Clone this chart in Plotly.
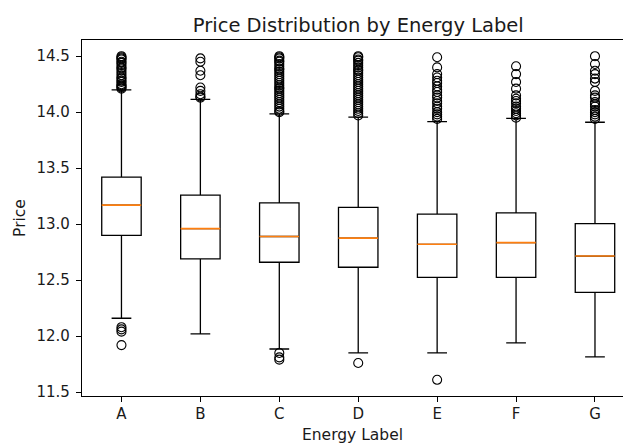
import plotly.graph_objects as go

labels = ["A", "B", "C", "D", "E", "F", "G"]
q1 = [12.90, 12.69, 12.66, 12.615, 12.525, 12.525, 12.39]
median = [13.17, 12.96, 12.89, 12.875, 12.82, 12.835, 12.715]
q3 = [13.42, 13.26, 13.19, 13.15, 13.09, 13.10, 13.005]
lower_whisker = [12.16, 12.02, 11.885, 11.85, 11.85, 11.94, 11.815]
upper_whisker = [14.20, 14.115, 13.985, 13.955, 13.915, 13.945, 13.91]

outliers = {
    "A": [14.50, 14.49, 14.48, 14.47, 14.45, 14.44, 14.42, 14.40, 14.39, 14.37, 14.35,
          14.33, 14.31, 14.30, 14.28, 14.27, 14.25, 14.24, 14.23, 14.22, 14.21,
          12.08, 12.06, 12.04, 11.92],
    "B": [14.48, 14.45, 14.37, 14.33, 14.22, 14.19, 14.16, 14.14, 14.13],
    "C": [14.50, 14.49, 14.48, 14.46, 14.45, 14.43, 14.41, 14.39, 14.38, 14.36, 14.34,
          14.32, 14.30, 14.28, 14.26, 14.24, 14.22, 14.21, 14.19, 14.17, 14.15, 14.13,
          14.11, 14.09, 14.07, 14.05, 14.03, 14.01, 14.00,
          11.85, 11.81, 11.79],
    "D": [14.50, 14.49, 14.47, 14.46, 14.44, 14.42, 14.40, 14.38, 14.37, 14.35, 14.33,
          14.31, 14.29, 14.27, 14.25, 14.23, 14.21, 14.19, 14.17, 14.15, 14.13, 14.11,
          14.09, 14.07, 14.05, 14.03, 14.01, 13.99, 13.97,
          11.76],
    "E": [14.49, 14.40, 14.34, 14.31, 14.28, 14.26, 14.23, 14.20, 14.18, 14.15, 14.13,
          14.10, 14.08, 14.05, 14.03, 14.00, 13.98, 13.96, 13.94,
          11.61],
    "F": [14.41, 14.34, 14.27, 14.21, 14.15, 14.12, 14.10, 14.08, 14.05, 14.03, 14.01,
          13.99, 13.97, 13.95],
    "G": [14.50, 14.43, 14.37, 14.34, 14.30, 14.27, 14.19, 14.15, 14.13, 14.09, 14.07,
          14.05, 14.02, 14.00, 13.98, 13.96, 13.94],
}

yticks = [11.5, 12.0, 12.5, 13.0, 13.5, 14.0, 14.5]

FONT = "DejaVu Sans"
BOX_W = 0.5
positions = list(range(1, len(labels) + 1))

fig = go.Figure()

for i, lab in enumerate(labels):
    fig.add_trace(go.Box(
        x=[positions[i]],
        q1=[q1[i]], median=[median[i]], q3=[q3[i]],
        lowerfence=[lower_whisker[i]], upperfence=[upper_whisker[i]],
        width=BOX_W, whiskerwidth=0.5,
        fillcolor="rgba(255,255,255,0)",
        line=dict(color="black", width=1.3),
        boxpoints=False, showlegend=False, hoverinfo="skip",
    ))

# medians in orange
mx, my = [], []
for i in range(len(labels)):
    mx += [positions[i] - BOX_W / 2, positions[i] + BOX_W / 2, None]
    my += [median[i], median[i], None]
fig.add_trace(go.Scatter(x=mx, y=my, mode="lines",
                         line=dict(color="#ff7f0e", width=1.6),
                         showlegend=False, hoverinfo="skip"))

# fliers
ox, oy = [], []
for i, lab in enumerate(labels):
    for v in outliers[lab]:
        ox.append(positions[i])
        oy.append(v)
fig.add_trace(go.Scatter(x=ox, y=oy, mode="markers",
                         marker=dict(symbol="circle-open", size=9, color="black",
                                     line=dict(width=1.1, color="black")),
                         showlegend=False, hoverinfo="skip"))

all_vals = oy + lower_whisker + upper_whisker
lo, hi = min(all_vals), max(all_vals)
pad = 0.05 * (hi - lo)

fig.update_layout(
    width=623, height=444,
    margin=dict(l=82, r=0, t=40, b=48),
    paper_bgcolor="white", plot_bgcolor="white",
    font=dict(family=FONT, size=15, color="#1a1a1a"),
    title=dict(text="Price Distribution by Energy Label",
               xref="container", x=358.3 / 623, xanchor="center",
               yref="container", y=1 - 25 / 444, yanchor="middle",
               font=dict(family=FONT, size=19.5, color="#1a1a1a")),
    xaxis=dict(range=[0.5, 7.355], tickvals=positions, ticktext=labels,
               automargin=False, tickfont=dict(size=15),
               showgrid=False, zeroline=False, showline=True, mirror=True,
               linecolor="black", linewidth=1.2, ticks="outside", ticklen=5,
               tickcolor="black", tickwidth=1.1, ticklabelstandoff=-1,
               title=dict(text="Energy Label", standoff=13,
                          font=dict(family=FONT, size=15.5, color="#1a1a1a"))),
    yaxis=dict(range=[lo - pad, hi + pad], tickvals=yticks,
               ticktext=[f"{t:.1f}" for t in yticks],
               automargin=False, tickfont=dict(size=15),
               showgrid=False, zeroline=False, showline=True, mirror=False,
               linecolor="black", linewidth=1.2, ticks="outside", ticklen=5,
               tickcolor="black", tickwidth=1.1, ticklabelstandoff=3,
               title=dict(text="Price", standoff=7,
                          font=dict(family=FONT, size=15.5, color="#1a1a1a"))),
)

fig.write_html("out.html", config={"displayModeBar": False},
               post_script="document.body.style.margin='0';document.body.style.overflow='hidden';")
